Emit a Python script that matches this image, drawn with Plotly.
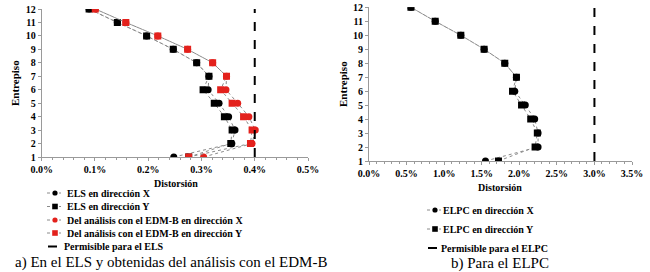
import plotly.graph_objects as go

floors = [1, 2, 3, 4, 5, 6, 7, 8, 9, 10, 11, 12]
els_x = [0.248, 0.357, 0.363, 0.351, 0.333, 0.3125, 0.314, 0.291, 0.247, 0.197, 0.142, 0.089]
els_y = [0.276, 0.355, 0.3575, 0.343, 0.324, 0.303, 0.314, 0.291, 0.247, 0.197, 0.142, 0.089]
edm_x = [0.304, 0.395, 0.401, 0.389, 0.368, 0.346, 0.347, 0.321, 0.274, 0.218, 0.158, 0.1006]
edm_y = [0.276, 0.392, 0.395, 0.379, 0.3575, 0.336, 0.347, 0.321, 0.274, 0.218, 0.158, 0.1006]
lim_els = 0.4

elpc_x = [1.55, 2.25, 2.25, 2.205, 2.08, 1.94, 1.962, 1.807, 1.532, 1.222, 0.881, 0.558]
elpc_y = [1.723, 2.21, 2.24, 2.152, 2.03, 1.91, 1.962, 1.807, 1.532, 1.222, 0.881, 0.558]
lim_elpc = 3.0

names_a = ["ELS en dirección X", "ELS en dirección Y",
           "Del análisis con el EDM-B en dirección X", "Del análisis con el EDM-B en dirección Y",
           "Permisible para el ELS"]
names_b = ["ELPC en dirección X", "ELPC en dirección Y", "Permisible para el ELPC"]

FONT = "Liberation Serif, Times New Roman, serif"
RED = "#e3211c"
GRAY = "#9a9a9a"
LINE = dict(color="#8a8a8a", width=1, dash="dot")

W, H = 650, 272
def px(v): return v / W
def py(v): return 1 - v / H

fig = go.Figure()

def add(x, y, name, color, symbol, size, xa, ya):
    fig.add_trace(go.Scatter(
        x=x, y=y, name=name, mode="lines+markers", showlegend=False,
        line=LINE, marker=dict(color=color, symbol=symbol, size=size, line=dict(width=0)),
        xaxis=xa, yaxis=ya))

add(els_x, floors, names_a[0], "black", "circle", 7, "x", "y")
add(els_y, floors, names_a[1], "black", "square", 7, "x", "y")
add(edm_x, floors, names_a[2], RED, "circle", 7, "x", "y")
add(edm_y, floors, names_a[3], RED, "square", 7, "x", "y")
fig.add_trace(go.Scatter(x=[lim_els, lim_els], y=[floors[0], floors[-1]], mode="lines", showlegend=False,
                         name=names_a[4], line=dict(color="black", width=2, dash="dash"),
                         xaxis="x", yaxis="y"))

add(elpc_x, floors, names_b[0], "black", "circle", 7, "x2", "y2")
add(elpc_y, floors, names_b[1], "black", "square", 7, "x2", "y2")
fig.add_trace(go.Scatter(x=[lim_elpc, lim_elpc], y=[floors[0], floors[-1]], mode="lines", showlegend=False,
                         name=names_b[2], line=dict(color="black", width=2, dash="dash"),
                         xaxis="x2", yaxis="y2"))

tickfont = dict(family=FONT, size=10, color="black", weight="bold")
common_x = dict(showgrid=False, zeroline=False, showline=True, linecolor=GRAY, linewidth=1,
                ticks="outside", ticklen=3, tickcolor=GRAY, tickfont=tickfont,
                ticksuffix="%", tickformat=".1f", fixedrange=True)
common_y = dict(showgrid=False, zeroline=False, showline=True, linecolor=GRAY, linewidth=1,
                ticks="outside", ticklen=3, tickcolor=GRAY, tickfont=tickfont,
                range=[1, 12], dtick=1, tick0=1, fixedrange=True)

fig.update_layout(
    width=W, height=H, margin=dict(l=0, r=0, t=0, b=0, autoexpand=False),
    paper_bgcolor="white", plot_bgcolor="white", showlegend=False,
    xaxis=dict(common_x, domain=[px(41.7), px(308)], range=[0, 0.5], dtick=0.1,
               minor=dict(ticks="outside", ticklen=2, tickcolor=GRAY, dtick=0.02), anchor="y"),
    yaxis=dict(common_y, domain=[py(157), py(9)], anchor="x"),
    xaxis2=dict(common_x, domain=[px(369), px(632)], range=[0, 3.5], dtick=0.5,
                minor=dict(ticks="outside", ticklen=2, tickcolor=GRAY, dtick=0.1), anchor="y2"),
    yaxis2=dict(common_y, domain=[py(161), py(7.3)], anchor="x2"),
)

# manual legends (texts + symbol samples) ---------------------------------
shapes = []
anns = []
leg_font = dict(family=FONT, size=10, color="black", weight="bold")

def legend_entry(xm, yc, kind, color, text, xt):
    if kind == "dash":
        shapes.append(dict(type="line", xref="paper", yref="paper", x0=px(xm - 7), x1=px(xm + 7),
                           y0=py(yc), y1=py(yc), line=dict(color="black", width=2, dash="dash")))
    else:
        shapes.append(dict(type="line", xref="paper", yref="paper", x0=px(xm - 8), x1=px(xm + 6),
                           y0=py(yc), y1=py(yc), line=dict(color="#8a8a8a", width=1, dash="dot")))
        r = 2.6 if kind == "circle" else 2.8
        shapes.append(dict(type="circle" if kind == "circle" else "rect", xref="paper", yref="paper",
                           x0=px(xm - r), x1=px(xm + r), y0=py(yc + r), y1=py(yc - r),
                           fillcolor=color, line=dict(width=0)))
    anns.append(dict(text=text, x=px(xt), y=py(yc), xanchor="left", yanchor="middle",
                     font=leg_font))

ya = [193, 206.5, 220, 233, 246.5]
kinds_a = [("circle", "black"), ("rect", "black"), ("circle", RED), ("rect", RED), ("dash", "black")]
for i, (k, c) in enumerate(kinds_a):
    legend_entry(55, ya[i], k, c, names_a[i], 65 if k != "dash" else 62)

yb = [210, 229, 248]
kinds_b = [("circle", "black"), ("rect", "black"), ("dash", "black")]
for i, (k, c) in enumerate(kinds_b):
    legend_entry(435, yb[i], k, c, names_b[i], 441 if k != "dash" else 439)

ann_font = dict(family=FONT, size=11, color="black", weight="bold")
anns += [
    dict(text="Entrepiso", x=px(15), y=py(83), textangle=-90, font=ann_font),
    dict(text="Distorsión", x=px(175.5), y=py(183), font=dict(ann_font, size=10)),
    dict(text="Entrepiso", x=px(343), y=py(84), textangle=-90, font=ann_font),
    dict(text="Distorsión", x=px(500), y=py(187), font=dict(ann_font, size=10)),
    dict(text="a) En el ELS y obtenidas del análisis con el EDM-B", x=px(171), y=py(262),
         font=dict(family=FONT, size=15, color="black")),
    dict(text="b) Para el ELPC", x=px(500), y=py(263),
         font=dict(family=FONT, size=15, color="black")),
]
for a in anns:
    a.setdefault("xanchor", "center")
    a.setdefault("yanchor", "middle")
    fig.add_annotation(xref="paper", yref="paper", showarrow=False, **a)

fig.update_layout(shapes=shapes)
fig.write_html("out.html", config={"displayModeBar": False},
               post_script="document.body.style.margin='0';document.body.style.overflow='hidden';")
